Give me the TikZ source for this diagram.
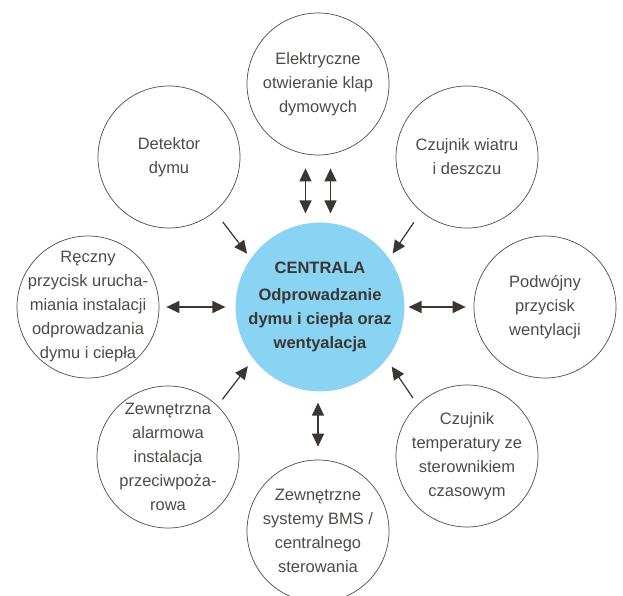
\documentclass[tikz,border=0pt]{standalone}
\usepackage{fontspec}
\setmainfont{Liberation Sans}
\usetikzlibrary{arrows.meta}
\definecolor{niebieski}{RGB}{137,211,243}
\definecolor{linia}{RGB}{80,76,74}
\definecolor{tekst}{RGB}{78,74,72}
\definecolor{grot}{RGB}{58,54,52}
\newcommand{\opisfont}{\fontsize{16.5}{24}\selectfont}
\tikzset{
	punkt/.style={circle,draw=linia,line width=0.7pt,minimum size=142pt,inner sep=0pt},
	opis/.style={align=center,text=tekst,font=\opisfont},
	arr/.style={-{Triangle[length=13pt,width=12pt]},line width=1.2pt,draw=grot,fill=grot},
	dbl/.style={arr,{Triangle[length=13pt,width=12pt]}-{Triangle[length=13pt,width=12pt]}}
}
\begin{document}
\begin{tikzpicture}[x=1pt,y=1pt]
	\useasboundingbox (0,0) rectangle (623,595);
	% centrala
	\node (centrala) at (320,288) [circle,fill=niebieski,minimum size=166pt,inner sep=0pt,align=center,text=grot,font=\opisfont\bfseries]
		{CENTRALA\\[3pt]Odprowadzanie\\dymu i ciepła oraz\\wentyalacja};
	% otoczenie
	\node (klapy) at (318,511) [punkt,label={[opis]center:{Elektryczne\\otwieranie klap\\dymowych}}]{};
	\node (detektor) at (169,438) [punkt,label={[opis]center:{Detektor\\dymu}}]{};
	\node (wiatr) at (467,438) [punkt,label={[opis]center:{Czujnik wiatru\\i deszczu}}]{};
	\node (reczny) at (88,288) [punkt,label={[opis]center:{Ręczny\\przycisk urucha-\\miania instalacji\\odprowadzania\\dymu i ciepła}}]{};
	\node (podwojny) at (545,288) [punkt,label={[opis]center:{Podwójny\\przycisk\\wentylacji}}]{};
	\node (alarm) at (168,138) [punkt,label={[opis]center:{Zewnętrzna\\alarmowa\\instalacja\\przeciwpoża-\\rowa}}]{};
	\node (temperatura) at (467,139) [punkt,label={[opis]center:{Czujnik\\temperatury ze\\sterownikiem\\czasowym}}]{};
	\node (bms) at (318,64) [punkt,label={[opis]center:{Zewnętrzne\\systemy BMS /\\centralnego\\sterowania}}]{};
	% strzalki
	\draw[dbl,shorten <=13pt,shorten >=9pt] ([xshift=-12.5pt]klapy.south) -- ([xshift=-12.5pt]klapy.south |- centrala.north);
	\draw[dbl,shorten <=13pt,shorten >=9pt] ([xshift=12.5pt]klapy.south) -- ([xshift=12.5pt]klapy.south |- centrala.north);
	\draw[arr,shorten <=13pt,shorten >=6pt] (detektor.-50) -- (centrala.145);
	\draw[arr,shorten <=13pt,shorten >=6pt] (wiatr.-130) -- (centrala.35);
	\draw[dbl,shorten <=7pt,shorten >=10pt] (reczny.east) -- (centrala.west);
	\draw[dbl,shorten <=4pt,shorten >=8pt] (centrala.east) -- (podwojny.west);
	\draw[arr,shorten <=8pt,shorten >=9pt] (alarm.46) -- (centrala.-142);
	\draw[arr,shorten <=8pt,shorten >=9pt] (temperatura.134) -- (centrala.-38);
	\draw[dbl,shorten <=13pt,shorten >=11pt] (bms.north) -- (bms.north |- centrala.south);
\end{tikzpicture}
\end{document}
